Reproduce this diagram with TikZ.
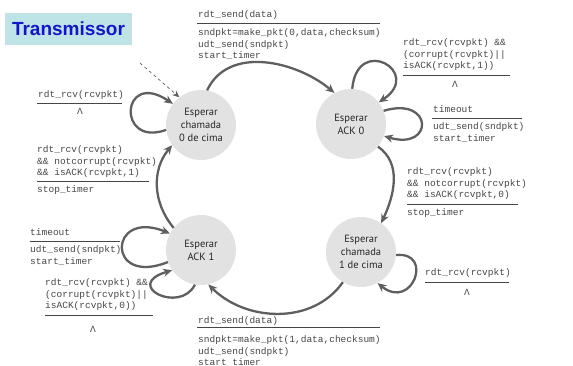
\documentclass[tikz,border=0pt]{standalone}
\usepackage{fontspec}
\setmainfont{Liberation Sans}
\newfontfamily\monofnt{Liberation Mono}
\newfontfamily\statefnt{PT Sans}
\newfontfamily\titlefnt{Liberation Sans}
\usetikzlibrary{arrows.meta}
\definecolor{linegray}{RGB}{95,95,95}
\definecolor{statefill}{RGB}{226,226,226}
\definecolor{labelgray}{RGB}{70,70,70}
\definecolor{titlebg}{RGB}{190,228,232}
\definecolor{titleblue}{RGB}{20,20,200}
\tikzset{
  state/.style={circle, fill=statefill, minimum size=70pt, inner sep=0pt,
    align=center, text=black!85, font=\statefnt\fontsize{10.5}{13}\selectfont},
  lbl/.style={anchor=north west, inner sep=0pt, align=left, text=labelgray,
    font=\monofnt\fontsize{9.5}{11.5}\selectfont},
  lam/.style={inner sep=0pt, text=labelgray, font=\monofnt\fontsize{9.5}{11.5}\selectfont},
  rulel/.style={draw=labelgray, line width=0.8pt},
  trans/.style={draw=linegray, line width=2.3pt, -{Stealth[length=9pt,width=8pt]}},
}
\begin{document}
\begin{tikzpicture}[x=1pt,y=1pt]
\useasboundingbox (0,0) rectangle (573,-366);
% title
\node[fill=titlebg, minimum width=127pt, minimum height=32pt, inner sep=0pt,
  text=titleblue, font=\titlefnt\bfseries\fontsize{19}{22}\selectfont] (title) at (68.5,-29) {Transmissor};
% states
\node[state] (c0) at (201,-125) {Esperar\\chamada\\0 de cima};
\node[state] (a0) at (351,-124) {Esperar\\ACK 0};
\node[state] (c1) at (361,-252) {Esperar\\chamada\\1 de cima};
\node[state] (a1) at (201,-250) {Esperar\\ACK 1};
% initial
\coordinate (init) at (140,-63);
\draw[linegray, dashed, line width=0.7pt, -{Stealth[length=7pt,width=6pt]}] (init) -- (c0.128);
% transitions
\draw[trans] (c0.80) to[out=65,in=140] (a0.118);
\draw[trans] (a0.88) .. controls +(5,55) and +(45,30) .. (a0.38);
\draw[trans] (a0.22) .. controls +(50,15) and +(50,-15) .. (a0.-20);
\draw[trans] (a0.-40) to[out=-35,in=65] (c1.55);
\draw[trans] (c1.-5) .. controls +(38,4) and +(35,-28) .. (c1.-62);
\draw[trans] (c1.-121) to[out=-125,in=-45] (a1.-78);
\draw[trans] (a1.-160) .. controls +(-62,-25) and +(-62,25) .. (a1.152);
\draw[trans] (a1.-100) .. controls +(-15,-30) and +(-50,-15) .. (a1.-145);
\draw[trans] (a1.141) to[out=130,in=-130] (c0.-145);
\draw[trans] (c0.-172) .. controls +(-50,-18) and +(-52,35) .. (c0.143);
% labels top
\node[lbl] (t1a) at (198,-10.5) {rdt\_send(data)};
\draw[rulel] (197,-23) -- (380,-23);
\node[lbl] (t1b) at (198,-28.5) {sndpkt=make\_pkt(0,data,checksum)\\udt\_send(sndpkt)\\start\_timer};
% top-right loop
\node[lbl] (t2a) at (403,-38.5) {rdt\_rcv(rcvpkt) \&\&\\(corrupt(rcvpkt)||\\isACK(rcvpkt,1))};
\draw[rulel] (403,-75) -- (510,-75);
\node[lam] (t2b) at (455,-84) {Λ};
% ACK0 timeout
\node[lbl] (t3a) at (433,-105.5) {timeout};
\draw[rulel] (432,-118) -- (522,-118);
\node[lbl] (t3b) at (433,-122.5) {udt\_send(sndpkt)\\start\_timer};
% right middle
\node[lbl] (t4a) at (407,-167.5) {rdt\_rcv(rcvpkt)\\\&\& notcorrupt(rcvpkt)\\\&\& isACK(rcvpkt,0)};
\draw[rulel] (407,-204) -- (518,-204);
\node[lbl] (t4b) at (407,-208.5) {stop\_timer};
% bottom-right loop
\node[lbl] (t5a) at (425,-268.5) {rdt\_rcv(rcvpkt)};
\draw[rulel] (425,-282) -- (509,-282);
\node[lam] (t5b) at (467,-292) {Λ};
% bottom
\node[lbl] (t6a) at (198,-316.5) {rdt\_send(data)};
\draw[rulel] (197,-327) -- (380,-327);
\node[lbl] (t6b) at (198,-335.5) {sndpkt=make\_pkt(1,data,checksum)\\udt\_send(sndpkt)\\start timer};
% bottom-left loop
\node[lbl] (t7a) at (45,-278.5) {rdt\_rcv(rcvpkt) \&\&\\(corrupt(rcvpkt)||\\isACK(rcvpkt,0))};
\draw[rulel] (45,-315) -- (153,-315);
\node[lam] (t7b) at (93,-329) {Λ};
% ACK1 timeout
\node[lbl] (t8a) at (30,-228.5) {timeout};
\draw[rulel] (30,-241) -- (120,-241);
\node[lbl] (t8b) at (30,-245.5) {udt\_send(sndpkt)\\start\_timer};
% left middle
\node[lbl] (t9a) at (37,-145.5) {rdt\_rcv(rcvpkt)\\\&\& notcorrupt(rcvpkt)\\\&\& isACK(rcvpkt,1)};
\draw[rulel] (37,-181) -- (149,-181);
\node[lbl] (t9b) at (37,-185.5) {stop\_timer};
% top-left loop
\node[lbl] (t10a) at (38,-90.5) {rdt\_rcv(rcvpkt)};
\draw[rulel] (37,-103) -- (122,-103);
\node[lam] (t10b) at (80,-111) {Λ};
\end{tikzpicture}
\end{document}
